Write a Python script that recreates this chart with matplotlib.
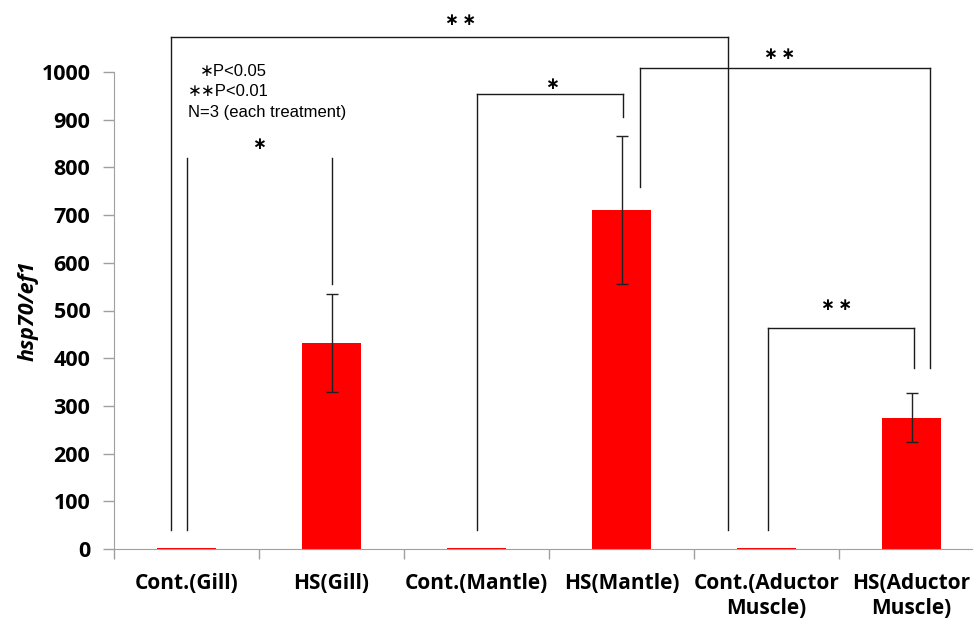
import matplotlib
matplotlib.use("Agg")
import matplotlib.pyplot as plt

categories = ["Cont.(Gill)", "HS(Gill)", "Cont.(Mantle)", "HS(Mantle)",
              "Cont.(Aductor\nMuscle)", "HS(Aductor\nMuscle)"]
means = [3, 432, 3, 710, 3, 275]
errors = [0, 103, 0, 155, 0, 51]
yticks = [0, 100, 200, 300, 400, 500, 600, 700, 800, 900, 1000]

# significance brackets: (x_left, x_right, y_top, y_left_end, y_right_end, label, label_x, label_y, draw_top)
brackets = [
    (-0.107, 3.734, 1073, 40, 40, "\u2217\u2009\u2217", 1.89, 1110, True),
    (0.0, 1.003, 819, 40, 555, "\u2217", 0.50, 849, False),
    (2.003, 3.01, 954, 40, 906, "\u2217", 2.52, 975, True),
    (3.128, 5.128, 1008, 759, 379, "\u2217\u2009\u2217", 4.09, 1038, True),
    (4.01, 5.02, 463, 40, 379, "\u2217\u2009\u2217", 4.48, 512, True),
]
legend_lines = [("\u2217P<0.05", 0.09), ("\u2217\u2217P<0.01", 0.01),
                ("N=3 (each treatment)", 0.01)]

fig = plt.figure(figsize=(9.73, 6.21), dpi=100)
W, H = 973, 621
left_px, right_px, bottom_px, top_px = 114, 984, 549, 72
ax = fig.add_axes([left_px / W, 1 - bottom_px / H,
                   (right_px - left_px) / W, (bottom_px - top_px) / H])

x = list(range(len(categories)))
ax.bar(x, means, width=0.41, color="#ff0000", zorder=2)
for xi, m, e in zip(x, means, errors):
    if e > 0:
        ax.errorbar(xi, m, yerr=e, fmt="none", ecolor="#222222",
                    elinewidth=1.0, capsize=4, capthick=1.0, zorder=3)

ax.set_xlim(-0.5, 5.5)
ax.set_ylim(0, 1000)

ax.set_yticks(yticks)
ax.set_yticklabels([str(v) for v in yticks], fontsize=15.5, fontweight="bold",
                   family="Open Sans")
ax.tick_params(axis="y", direction="out", length=8, width=1, color="#a0a0a0", pad=9)

ax.set_xticks([i - 0.5 for i in range(len(categories) + 1)], minor=True)
ax.set_xticks(x)
ax.set_xticklabels(categories, fontsize=15, fontweight="bold", family="Open Sans",
                   linespacing=1.3)
ax.tick_params(axis="x", which="major", length=0, pad=17)
ax.tick_params(axis="x", which="minor", direction="out", length=7, width=1, color="#a0a0a0")

for side in ["top", "right"]:
    ax.spines[side].set_visible(False)
ax.spines["left"].set_color("#a0a0a0")
ax.spines["bottom"].set_color("#a0a0a0")

ax.set_ylabel("hsp70/ef1", fontsize=15.5, fontweight="bold", style="italic",
              family="Open Sans", labelpad=2)

star_font = ["DejaVu Sans"]
for xl, xr, yt, yl, yr, lab, lx, ly, top in brackets:
    kw = dict(color="#1a1a1a", lw=1.0, clip_on=False, zorder=4)
    ax.plot([xl, xl], [yl, yt], **kw)
    ax.plot([xr, xr], [yr, yt], **kw)
    if top:
        ax.plot([xl, xr], [yt, yt], **kw)
    ax.text(lx, ly, lab, ha="center", va="center", fontsize=12, fontweight="bold",
            family=star_font, clip_on=False)

for i, (line, lx) in enumerate(legend_lines):
    ax.text(lx, 1002 - i * 43, line, ha="left", va="center", fontsize=12,
            family=["Liberation Sans", "DejaVu Sans"])

fig.savefig("out.png", dpi=100)
